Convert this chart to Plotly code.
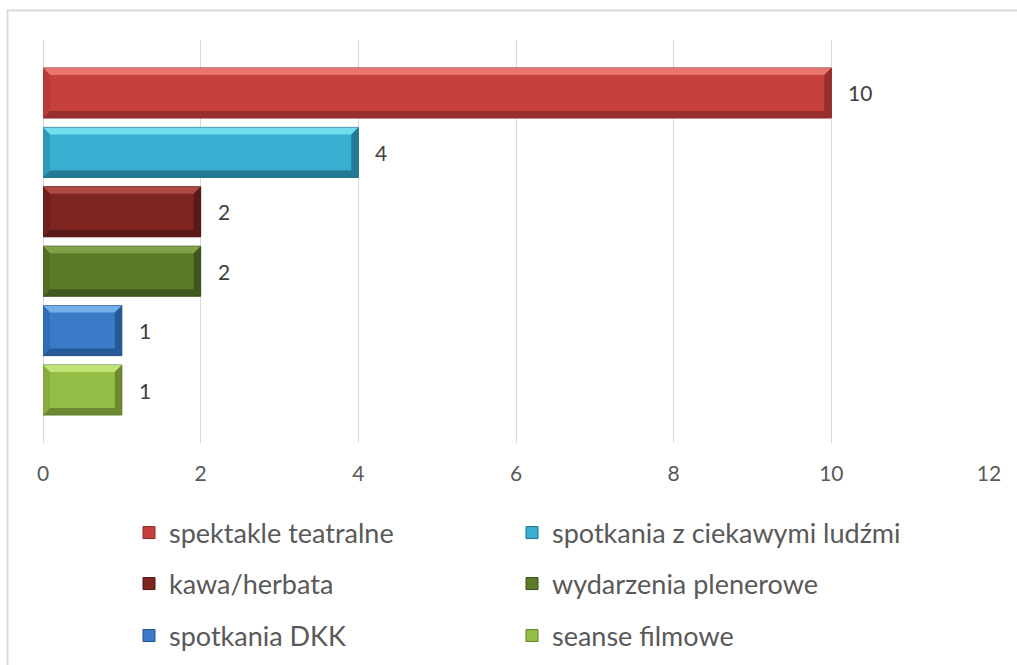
import plotly.graph_objects as go

# ---------------- data ----------------
categories = ["spektakle teatralne", "spotkania z ciekawymi ludźmi", "kawa/herbata",
              "wydarzenia plenerowe", "spotkania DKK", "seanse filmowe"]
values = [10, 4, 2, 2, 1, 1]
x_ticks = [0, 2, 4, 6, 8, 10, 12]

# ---------------- style ----------------
body = ["#C6403E", "#38AED0", "#7E2421", "#5C7B29", "#3A7AC7", "#94BE45"]
light = ["#F0817F", "#82E8F8", "#B9524E", "#8CAD52", "#86BBF2", "#CBEE82"]
dark = ["#8C2A28", "#1E6C82", "#511614", "#3A4E19", "#22508B", "#607C2B"]
side = ["#B53836", "#2C93B0", "#6D1E1C", "#506C23", "#3169B0", "#82A93B"]
outline = ["#8A2A28", "#22738A", "#4E1513", "#3A4E19", "#24528C", "#627F2C"]

W, H = 1017, 665
ML, MR, MT, MB = 43, 28, 40, 222
XR = [0, 12]
YR = [5.892, -0.892]
BAR_W = 0.842
FONT = "Lato"
TXT = "#595959"

plot_w = W - ML - MR
plot_h = H - MT - MB
px_x = plot_w / (XR[1] - XR[0])
px_y = plot_h / abs(YR[0] - YR[1])
bev = 7
bx = bev / px_x
by = bev / px_y

fig = go.Figure()
legend_names = ["legend"] + [f"legend{k}" for k in range(2, len(categories) + 1)]
for i, (cat, v) in enumerate(zip(categories, values)):
    fig.add_trace(go.Bar(
        x=[v], y=[i], orientation="h", name=cat, width=BAR_W,
        marker=dict(color=body[i], line=dict(color=outline[i], width=1)),
        legend=legend_names[i], showlegend=True, hoverinfo="x+name",
    ))

shapes = []
for i, v in enumerate(values):
    top = i - BAR_W / 2
    bot = i + BAR_W / 2
    x0, x1 = 0, v
    polys = [
        ([(x0, top), (x1, top), (x1 - bx, top + by), (x0 + bx, top + by)], light[i]),
        ([(x0, bot), (x1, bot), (x1 - bx, bot - by), (x0 + bx, bot - by)], dark[i]),
        ([(x0, top), (x0 + bx, top + by), (x0 + bx, bot - by), (x0, bot)], side[i]),
        ([(x1, top), (x1 - bx, top + by), (x1 - bx, bot - by), (x1, bot)], dark[i]),
    ]
    for pts, col in polys:
        path = "M " + " L ".join(f"{px},{py}" for px, py in pts) + " Z"
        shapes.append(dict(type="path", xref="x", yref="y", path=path,
                           fillcolor=col, line=dict(width=0), layer="above", opacity=0.8))

# outer chart border
shapes.append(dict(type="rect", xref="paper", yref="paper",
                   x0=(7.5 - ML) / plot_w, x1=(W + 20 - ML) / plot_w,
                   y0=-(H + 30 - MT - plot_h) / plot_h, y1=1 + (MT - 10.5) / plot_h,
                   line=dict(color="#D9D9D9", width=2), fillcolor="rgba(0,0,0,0)", layer="below"))

annotations = []
for i, v in enumerate(values):
    annotations.append(dict(x=v, y=i, xref="x", yref="y", text=str(v), showarrow=False,
                            xanchor="left", yanchor="middle", xshift=15,
                            font=dict(family=FONT, size=21, color="#404040")))

fig.update_layout(
    width=W, height=H,
    margin=dict(l=ML, r=MR, t=MT, b=MB, autoexpand=False),
    paper_bgcolor="white", plot_bgcolor="white",
    barmode="overlay", showlegend=True,
    shapes=shapes, annotations=annotations,
    font=dict(family=FONT, color=TXT),
    xaxis=dict(range=XR, tickvals=x_ticks, showgrid=True, gridcolor="#D9D9D9", gridwidth=1,
               zeroline=True, zerolinecolor="#D9D9D9", zerolinewidth=1, showline=False,
               ticks="", tickfont=dict(family=FONT, size=21, color=TXT), ticklabelstandoff=16),
    yaxis=dict(range=YR, showticklabels=False, showgrid=False, zeroline=False, showline=False),
)

leg_common = dict(orientation="h", xanchor="left", yanchor="middle",
                  font=dict(family=FONT, size=27, color=TXT),
                  bgcolor="rgba(0,0,0,0)", traceorder="normal", visible=True)
col_x = [129, 512]
row_y = [533, 584, 636]
legend_layout = {}
for i, name in enumerate(legend_names):
    legend_layout[name] = dict(leg_common,
                               x=(col_x[i % 2] - ML) / plot_w,
                               y=(MT + plot_h - row_y[i // 2]) / plot_h)
fig.update_layout(**legend_layout)

fig.write_html("out.html", post_script="document.body.style.margin='0';",
               config={"displayModeBar": False})
